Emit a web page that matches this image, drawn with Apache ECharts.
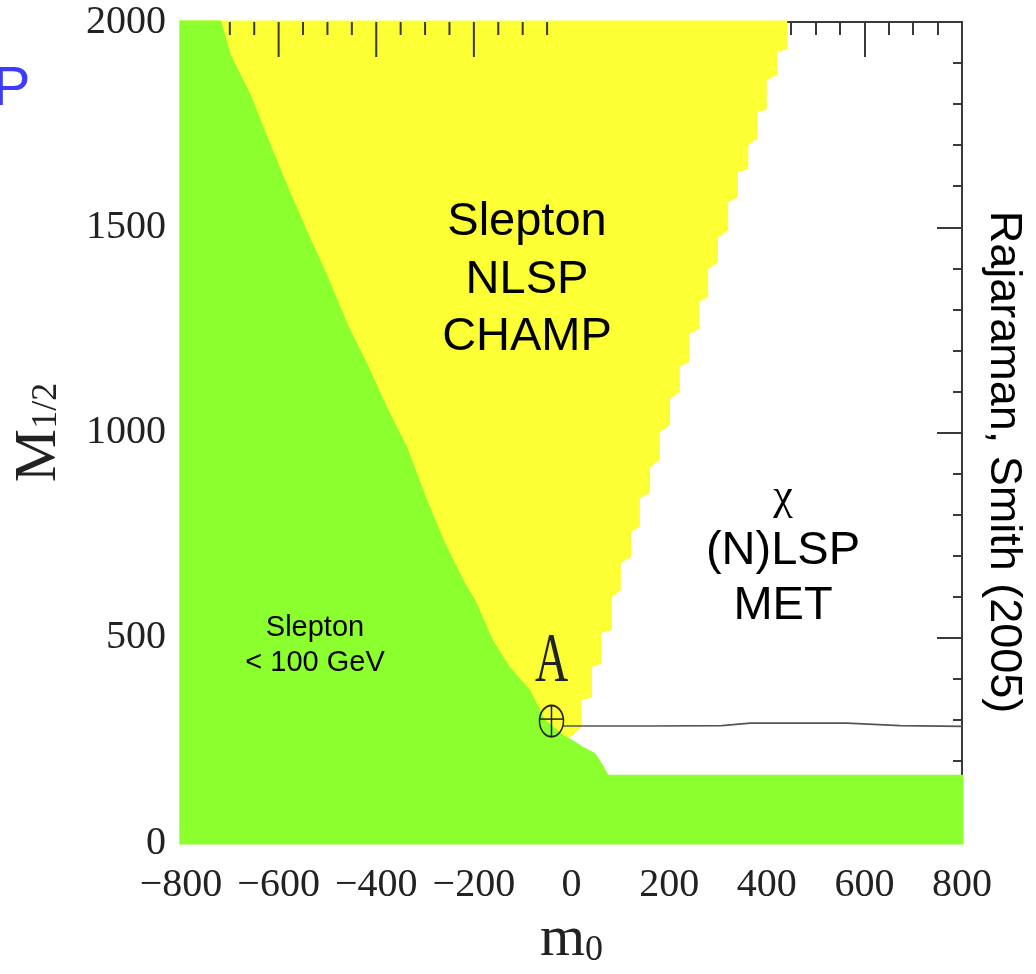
<!DOCTYPE html>
<html><head><meta charset="utf-8">
<script src="https://cdn.jsdelivr.net/npm/echarts@6/dist/echarts.min.js"></script>
<style>html,body{margin:0;padding:0;background:#fff}#c{width:1036px;height:974px}</style>
</head><body><div id="c"></div>
<script>
// ---- data ----
const xTicks = [-800, -600, -400, -200, 0, 200, 400, 600, 800];
const xTickLabels = ['−800', '−600', '−400', '−200', '0', '200', '400', '600', '800'];
const yTicks = [0, 500, 1000, 1500, 2000];
const yTickLabels = ['0', '500', '1000', '1500', '2000'];

// upper boundary of the green region (m0, M1/2), from top-left to the right edge
const greenEdge = [[-718,2000],[-698,1920],[-657,1822],[-616,1700],[-579,1593],[-538,1481],[-497,1374],
  [-458,1262],[-417,1164],[-376,1057],[-337,965],[-296,836],[-259,731],[-218,633],[-197,592],[-161,494],
  [-126,429],[-85,373],[-54,300],[-17,263],[11,244],[24,234],[48,219],[58,202],[73,171],[75,166],[800,166]];

// right boundary of the yellow region (m0, M1/2), from top down
const yellowEdge = [[442,2000],[442,1934],[421,1927],[421,1871],[400,1859],[400,1786],[380,1781],[380,1715],
  [362,1700],[362,1642],[341,1634],[341,1573],[321,1561],[321,1492],[300,1475],[300,1415],[280,1398],[280,1330],
  [261,1318],[261,1252],[241,1240],[241,1172],[222,1160],[222,1099],[202,1082],[202,1018],[181,1001],[181,933],
  [161,916],[161,853],[140,840],[140,770],[122,758],[122,697],[101,682],[101,616],[83,599],[83,519],[62,512],
  [62,437],[42,429],[42,355],[21,348],[21,283],[3,263],[-24,245]];

const pointA = [-41, 297];
const lineFromA = [[-17,285],[167,285],[308,286],[366,292],[564,292],[673,286],[800,284]];
const topTicksOverFill = [-700,-650,-600,-550,-500,-450,-400,-350,-300,-250,-200,-150,-100,-50];

// ---- chart ----
const X_MIN = -800, X_MAX = 800, Y_MIN = 0, Y_MAX = 2000;
const GREEN = '#8cff2e', YELLOW = '#fbff33';
const SERIF = '"Liberation Serif", "DejaVu Serif", serif';
const SANS = '"Liberation Sans", Arial, sans-serif';
const AXC = '#3a3a3a';

const chart = echarts.init(document.getElementById('c'), null, {renderer: 'canvas'});

// filled region; points lying on the frame are pushed out slightly so the fill hides the frame line there
function polySeries(name, pts, fill, z) {
  const PAD = 1.6;
  return {
    type: 'custom', name, z, xAxisIndex: 0, yAxisIndex: 0, silent: true, clip: false,
    data: [[0, 0]],
    renderItem: (params, api) => ({
      type: 'polygon',
      shape: {points: pts.map(p => {
        const c = api.coord(p);
        if (p[0] === X_MIN) c[0] -= PAD;
        if (p[0] === X_MAX) c[0] += PAD;
        if (p[1] === Y_MAX) c[1] -= PAD;
        if (p[1] === Y_MIN) c[1] += PAD;
        return c;
      })},
      style: {fill, stroke: null}
    })
  };
}

const option = {
  animation: false,
  backgroundColor: '#ffffff',
  grid: {left: 181, right: 74, top: 22, bottom: 131},
  xAxis: [
    {
      type: 'value', min: X_MIN, max: X_MAX, interval: 200, position: 'bottom', z: 0,
      axisLine: {show: false, onZero: false}, axisTick: {show: false}, splitLine: {show: false},
      axisLabel: {
        margin: 22, fontFamily: SERIF, fontSize: 40, color: '#222',
        formatter: v => xTickLabels[xTicks.indexOf(v)] ?? ''
      },
      name: '{m|m}{s|0}', nameLocation: 'middle', nameGap: 68,
      nameTextStyle: {
        rich: {
          m: {fontFamily: SERIF, fontSize: 58, color: '#222'},
          s: {fontFamily: SERIF, fontSize: 36, color: '#222', padding: [22, 0, 0, 0]}
        }
      }
    },
    {
      type: 'value', min: X_MIN, max: X_MAX, interval: 200, position: 'top', z: 0,
      axisLine: {show: true, onZero: false, lineStyle: {color: AXC, width: 2}},
      axisTick: {show: true, inside: true, length: 35, lineStyle: {color: AXC, width: 2}},
      minorTick: {show: true, splitNumber: 4, length: 13, lineStyle: {color: AXC, width: 2}},
      axisLabel: {show: false}, splitLine: {show: false}
    }
  ],
  yAxis: [
    {
      type: 'value', min: Y_MIN, max: Y_MAX, interval: 500, position: 'left', z: 0,
      axisLine: {show: false, onZero: false}, axisTick: {show: false}, splitLine: {show: false},
      axisLabel: {
        margin: 15, fontFamily: SERIF, fontSize: 40, color: '#222',
        formatter: v => yTickLabels[yTicks.indexOf(v)] ?? ''
      },
      name: '{m|M}{s|1/2}', nameLocation: 'middle', nameGap: 112, nameRotate: 90,
      nameTextStyle: {
        rich: {
          m: {fontFamily: SERIF, fontSize: 60, color: '#222'},
          s: {fontFamily: SERIF, fontSize: 36, color: '#222', padding: [16, 0, 0, 0]}
        }
      }
    },
    {
      type: 'value', min: Y_MIN, max: Y_MAX, interval: 500, position: 'right', z: 0,
      axisLine: {show: true, onZero: false, lineStyle: {color: AXC, width: 2}},
      axisTick: {show: true, inside: true, length: 25, lineStyle: {color: AXC, width: 2}},
      minorTick: {show: true, splitNumber: 5, length: 9, lineStyle: {color: AXC, width: 2}},
      axisLabel: {show: false}, splitLine: {show: false}
    }
  ],
  series: [
    polySeries('yellow', [[X_MIN, Y_MAX]].concat(yellowEdge, [[X_MIN, Y_MIN]]), YELLOW, 5),
    polySeries('green', [[X_MIN, Y_MIN], [X_MIN, Y_MAX]].concat(greenEdge, [[X_MAX, Y_MIN]]), GREEN, 6),
    {
      type: 'custom', name: 'topTicks', z: 7, silent: true,
      data: topTicksOverFill.map(v => [v, Y_MAX]),
      renderItem: (params, api) => {
        const v = api.value(0);
        const p = api.coord([v, Y_MAX]);
        const len = (v % 200 === 0) ? 35 : 13;
        return {type: 'line', shape: {x1: p[0], y1: p[1], x2: p[0], y2: p[1] + len},
                style: {stroke: AXC, lineWidth: 2}};
      }
    },
    {
      type: 'line', name: 'lineA', z: 8, data: lineFromA, showSymbol: false, silent: true,
      lineStyle: {color: '#555', width: 1.6}
    },
    {
      type: 'custom', name: 'pointA', z: 9, silent: true,
      data: [pointA],
      renderItem: (params, api) => {
        const p = api.coord([api.value(0), api.value(1)]);
        return {
          type: 'group',
          children: [
            {type: 'circle', x: p[0], y: p[1], scaleY: 1.3,
             shape: {cx: 0, cy: 0, r: 12}, style: {fill: null, stroke: '#222', lineWidth: 1.5}},
            {type: 'line', shape: {x1: p[0], y1: p[1] - 15, x2: p[0], y2: p[1] + 15},
             style: {stroke: '#222', lineWidth: 1.5}},
            {type: 'line', shape: {x1: p[0] - 12, y1: p[1] - 2, x2: p[0] + 12, y2: p[1] - 2},
             style: {stroke: '#222', lineWidth: 1.5}},
            {type: 'text', x: p[0], y: p[1] - 58, scaleY: 1.5,
             style: {text: 'A', fontFamily: SERIF, fontSize: 46, fill: '#222', align: 'center', verticalAlign: 'middle'}}
          ]
        };
      }
    }
  ],
  graphic: [
    {type: 'text', z: 100, x: 527, y: 222, style: {text: 'Slepton', font: '47px ' + SANS, fill: '#000', align: 'center', verticalAlign: 'middle'}},
    {type: 'text', z: 100, x: 527, y: 280, style: {text: 'NLSP', font: '47px ' + SANS, fill: '#000', align: 'center', verticalAlign: 'middle'}},
    {type: 'text', z: 100, x: 527, y: 337, style: {text: 'CHAMP', font: '47px ' + SANS, fill: '#000', align: 'center', verticalAlign: 'middle'}},
    {type: 'text', z: 100, x: 315, y: 628, style: {text: 'Slepton', font: '29px ' + SANS, fill: '#000', align: 'center', verticalAlign: 'middle'}},
    {type: 'text', z: 100, x: 315, y: 663, style: {text: '< 100 GeV', font: '29px ' + SANS, fill: '#000', align: 'center', verticalAlign: 'middle'}},
    {type: 'text', z: 100, x: 783, y: 497, style: {text: 'χ', font: '44px ' + SERIF, fill: '#000', align: 'center', verticalAlign: 'middle'}},
    {type: 'text', z: 100, x: 783, y: 551, style: {text: '(N)LSP', font: '47px ' + SANS, fill: '#000', align: 'center', verticalAlign: 'middle'}},
    {type: 'text', z: 100, x: 783, y: 606, style: {text: 'MET', font: '47px ' + SANS, fill: '#000', align: 'center', verticalAlign: 'middle'}},
    {type: 'text', z: 100, x: 1003, y: 462, rotation: -Math.PI / 2,
     style: {text: 'Rajaraman, Smith (2005)', font: '45px ' + SANS, fill: '#000', align: 'center', verticalAlign: 'middle'}},
    {type: 'text', z: 100, x: -7, y: 90, style: {text: 'P', font: '56px ' + SANS, fill: '#3c3cff', align: 'left', verticalAlign: 'middle'}}
  ]
};
chart.setOption(option);
</script>
</body></html>
